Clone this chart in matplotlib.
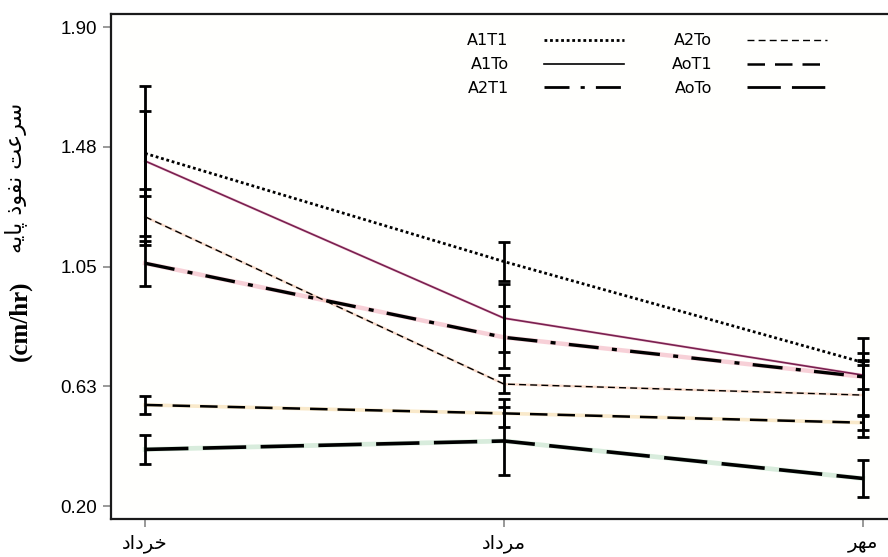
import numpy as np
import matplotlib
matplotlib.use("Agg")
import matplotlib.pyplot as plt
from matplotlib.lines import Line2D

# داده ها (خوانده شده از تصویر)
months = ["خرداد", "مرداد", "مهر"]
series = ["A1T1", "A1To", "A2T1", "A2To", "AoT1", "AoTo"]

a1t1 = [1.452, 1.068, 0.710]
a1to = [1.425, 0.867, 0.665]
a2t1 = [1.062, 0.799, 0.659]
a2to = [1.227, 0.633, 0.594]
aot1 = [0.559, 0.529, 0.496]
aoto = [0.401, 0.431, 0.298]

a1t1_err = [0.15, 0.07, 0.01]
a1to_err = [0.265, 0.12, 0.05]
a2t1_err = [0.08, 0.11, 0.137]
a2to_err = [0.10, 0.033, 0.15]
aot1_err = [0.033, 0.05, 0.025]
aoto_err = [0.05, 0.12, 0.065]

yticks = [0.20, 0.625, 1.05, 1.475, 1.90]
ytick_labels = ["0.20", "0.63", "1.05", "1.48", "1.90"]

# حروف فارسی: (تنها، پایانی، آغازی، میانی)
FORMS = {
    'ا': ('\uFE8D', '\uFE8E', None, None),
    'د': ('\uFEA9', '\uFEAA', None, None),
    'ذ': ('\uFEAB', '\uFEAC', None, None),
    'ر': ('\uFEAD', '\uFEAE', None, None),
    'و': ('\uFEED', '\uFEEE', None, None),
    'خ': ('\uFEA5', '\uFEA6', '\uFEA7', '\uFEA8'),
    'م': ('\uFEE1', '\uFEE2', '\uFEE3', '\uFEE4'),
    'ه': ('\uFEE9', '\uFEEA', '\uFEEB', '\uFEEC'),
    'س': ('\uFEB1', '\uFEB2', '\uFEB3', '\uFEB4'),
    'ع': ('\uFEC9', '\uFECA', '\uFECB', '\uFECC'),
    'ت': ('\uFE95', '\uFE96', '\uFE97', '\uFE98'),
    'ن': ('\uFEE5', '\uFEE6', '\uFEE7', '\uFEE8'),
    'ف': ('\uFED1', '\uFED2', '\uFED3', '\uFED4'),
    'پ': ('\uFB56', '\uFB57', '\uFB58', '\uFB59'),
    'ی': ('\uFBFC', '\uFBFD', '\uFBFE', '\uFBFF'),
}


def fa(text):
    out = []
    for i, ch in enumerate(text):
        if ch not in FORMS:
            out.append(ch)
            continue
        iso, fin, ini, med = FORMS[ch]
        prev = text[i - 1] if i > 0 else ''
        nxt = text[i + 1] if i + 1 < len(text) else ''
        jp = prev in FORMS and FORMS[prev][2] is not None
        jn = ini is not None and nxt in FORMS
        if jp and jn:
            out.append(med)
        elif jp:
            out.append(fin)
        elif jn:
            out.append(ini)
        else:
            out.append(iso)
    return ''.join(reversed(out))


plt.rcParams['font.family'] = ['DejaVu Sans']

fig = plt.figure(figsize=(8.88, 5.57), dpi=100)
ax = fig.add_axes([0.125, 0.0682, 0.875, 0.9067])
ax.set_facecolor('#fffffd')

x = np.arange(len(months))

styles = {
    "A1T1": dict(ls=(0, (1, 1)), lw=2.0, halo=None),
    "A1To": dict(ls='-', lw=1.2, halo='#eeb3c6', color='#7a2050'),
    "A2T1": dict(ls=(0, (9, 4, 1.5, 4)), lw=2.4, halo='#f3b2bf'),
    "A2To": dict(ls=(0, (5, 3)), lw=1.0, halo='#f6c4aa'),
    "AoT1": dict(ls=(0, (7, 4)), lw=1.8, halo='#f5dba8'),
    "AoTo": dict(ls=(0, (12, 4)), lw=2.6, halo='#bfe0c6'),
}
values = dict(zip(series, [a1t1, a1to, a2t1, a2to, aot1, aoto]))
errors = dict(zip(series, [a1t1_err, a1to_err, a2t1_err, a2to_err, aot1_err, aoto_err]))

for name in series:
    st = styles[name]
    if st['halo']:
        ax.plot(x, values[name], color=st['halo'], lw=st['lw'] + 0.8, alpha=0.6, zorder=2)
    ax.plot(x, values[name], color=st.get('color', 'black'), ls=st['ls'], lw=st['lw'], zorder=3)
    ax.errorbar(x, values[name], yerr=errors[name], fmt='none', ecolor='black',
                elinewidth=2, capsize=4, capthick=2, zorder=4)

ax.set_xlim(-0.095, 2.07)
ax.set_ylim(0.154, 1.947)
ax.set_xticks(x)
ax.set_xticklabels([fa(m) for m in months], fontsize=14)
ax.set_yticks(yticks)
ax.set_yticklabels(ytick_labels, fontsize=13.5, family='Liberation Sans')
ax.tick_params(direction='out', length=6, color='#888888', width=1.2, pad=4)
ax.tick_params(axis='x', pad=5)

for side in ['left', 'top', 'bottom']:
    ax.spines[side].set_linewidth(1.6)
    ax.spines[side].set_color('#1a1a1a')
ax.spines['right'].set_visible(False)

handles = [Line2D([], [], color='black', ls=styles[n]['ls'], lw=min(styles[n]['lw'], 2.0))
           for n in ["A1T1", "A1To", "A2T1", "A2To", "AoT1", "AoTo"]]
ax.legend(handles, ["A1T1", "A1To", "A2T1", "A2To", "AoT1", "AoTo"], ncol=2,
          markerfirst=False, frameon=False, loc='upper left',
          bbox_to_anchor=(0.44, 0.99), fontsize=11.5, handlelength=5.0,
          handletextpad=2.2, columnspacing=3.0, labelspacing=0.55)

fig.text(0.018, 0.68, fa("سرعت نفوذ پایه"), rotation=90, fontsize=16,
         ha='center', va='center')
fig.text(0.023, 0.425, "(cm/hr)", rotation=90, fontsize=18, fontweight='bold',
         family='Liberation Serif', ha='center', va='center')

fig.savefig("out.png", dpi=100)
